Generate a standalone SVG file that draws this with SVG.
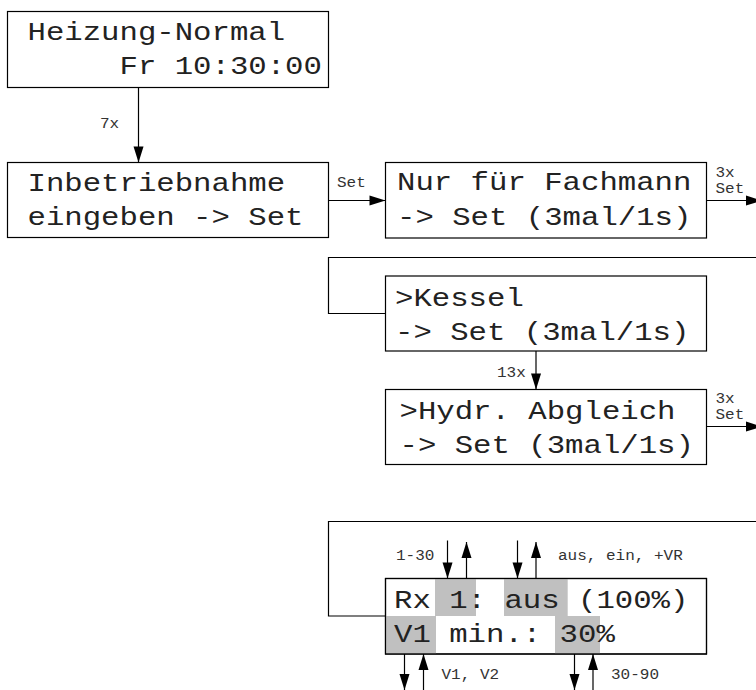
<svg xmlns="http://www.w3.org/2000/svg" width="756" height="690" viewBox="0 0 756 690">
<style>
.box{fill:#fff;stroke:#000;stroke-width:1.2}
.frame{fill:none;stroke:#000;stroke-width:1.2}
.lcd{font-family:"Liberation Mono","DejaVu Sans Mono",monospace;font-size:25px;fill:#222}
.lbl{font-family:"Liberation Mono","DejaVu Sans Mono",monospace;font-size:14px;fill:#333}
.hl{fill:#c0c0c0}
.con{fill:none;stroke:#000;stroke-width:1.2}
.arr{marker-end:url(#ah)}
</style>
<defs>
<marker id="ah" markerUnits="userSpaceOnUse" markerWidth="16" markerHeight="10" refX="16" refY="5" orient="auto" overflow="visible">
<path d="M0,0 L16,5 L0,10 z" fill="#000"/>
</marker>
</defs>

<g id="connectors">
<line class="con arr" x1="138.5" y1="87.5" x2="138.5" y2="162.5"/>
<line class="con arr" x1="328.5" y1="200.5" x2="385.5" y2="200.5"/>
<line class="con arr" x1="706.5" y1="200.5" x2="762" y2="200.5"/>
<polyline class="frame" points="760,257.5 328.5,257.5 328.5,313.5 385.5,313.5"/>
<line class="con arr" x1="536" y1="351" x2="536" y2="389.5"/>
<line class="con arr" x1="706.5" y1="426.5" x2="762" y2="426.5"/>
<polyline class="frame" points="760,521.5 328.5,521.5 328.5,616 385.5,616"/>
<line class="con arr" x1="447.5" y1="540.5" x2="447.5" y2="578.5"/>
<line class="con arr" x1="466.5" y1="578.5" x2="466.5" y2="542"/>
<line class="con arr" x1="517.5" y1="540.5" x2="517.5" y2="578.5"/>
<line class="con arr" x1="536" y1="578.5" x2="536" y2="542"/>
<line class="con arr" x1="404.5" y1="654" x2="404.5" y2="690"/>
<line class="con arr" x1="423.5" y1="690" x2="423.5" y2="654"/>
<line class="con arr" x1="574.5" y1="654" x2="574.5" y2="690"/>
<line class="con arr" x1="593" y1="690" x2="593" y2="654"/>
<text class="lbl" x="100" y="128" textLength="19.2" lengthAdjust="spacingAndGlyphs">7x</text>
<text class="lbl" x="337" y="187" textLength="28.8" lengthAdjust="spacingAndGlyphs">Set</text>
<text class="lbl" x="715.5" y="177" textLength="19.2" lengthAdjust="spacingAndGlyphs">3x</text>
<text class="lbl" x="715.5" y="193" textLength="28.8" lengthAdjust="spacingAndGlyphs">Set</text>
<text class="lbl" x="497" y="377" textLength="28.8" lengthAdjust="spacingAndGlyphs">13x</text>
<text class="lbl" x="715.5" y="402.5" textLength="19.2" lengthAdjust="spacingAndGlyphs">3x</text>
<text class="lbl" x="715.5" y="418.5" textLength="28.8" lengthAdjust="spacingAndGlyphs">Set</text>
<text class="lbl" x="396" y="559.5" textLength="38.4" lengthAdjust="spacingAndGlyphs">1-30</text>
<text class="lbl" x="558" y="560" textLength="124.8" lengthAdjust="spacingAndGlyphs">aus, ein, +VR</text>
<text class="lbl" x="441.5" y="678.5" textLength="57.6" lengthAdjust="spacingAndGlyphs">V1, V2</text>
<text class="lbl" x="611" y="678.5" textLength="48" lengthAdjust="spacingAndGlyphs">30-90</text>
</g>

<g id="heizung-normal">
<rect class="box" x="7.5" y="11.5" width="321" height="76"/>
<text class="lcd" x="27.5" y="39.5" textLength="257.6" lengthAdjust="spacingAndGlyphs">Heizung-Normal</text>
<text class="lcd" x="119.5" y="74" textLength="202.4" lengthAdjust="spacingAndGlyphs">Fr 10:30:00</text>
</g>

<g id="inbetriebnahme">
<rect class="box" x="7.5" y="162.5" width="321" height="75"/>
<text class="lcd" x="27.5" y="190.5" textLength="257.6" lengthAdjust="spacingAndGlyphs">Inbetriebnahme</text>
<text class="lcd" x="27.5" y="225" textLength="276" lengthAdjust="spacingAndGlyphs">eingeben -&gt; Set</text>
</g>

<g id="fachmann">
<rect class="box" x="385.5" y="162.5" width="321" height="75.5"/>
<text class="lcd" x="397" y="190" textLength="294.4" lengthAdjust="spacingAndGlyphs">Nur für Fachmann</text>
<text class="lcd" x="397" y="225" textLength="294.4" lengthAdjust="spacingAndGlyphs">-&gt; Set (3mal/1s)</text>
</g>

<g id="kessel">
<rect class="box" x="385.5" y="276" width="321" height="75"/>
<text class="lcd" x="395" y="305.5" textLength="128.8" lengthAdjust="spacingAndGlyphs">&gt;Kessel</text>
<text class="lcd" x="395" y="340" textLength="294.4" lengthAdjust="spacingAndGlyphs">-&gt; Set (3mal/1s)</text>
</g>

<g id="hydr-abgleich">
<rect class="box" x="385.5" y="389.5" width="321" height="75"/>
<text class="lcd" x="399.5" y="418.5" textLength="276" lengthAdjust="spacingAndGlyphs">&gt;Hydr. Abgleich</text>
<text class="lcd" x="399.5" y="453" textLength="294.4" lengthAdjust="spacingAndGlyphs">-&gt; Set (3mal/1s)</text>
</g>

<g id="ventil-display">
<rect class="box" x="385.5" y="578.5" width="321" height="75.5"/>
<rect class="hl" x="435" y="579" width="41" height="37"/>
<rect class="hl" x="504" y="579" width="63.7" height="37"/>
<rect class="hl" x="386" y="616" width="50" height="37.5"/>
<rect class="hl" x="555" y="616" width="45" height="37.5"/>
<text class="lcd" x="394" y="607.5" textLength="294.4" lengthAdjust="spacingAndGlyphs">Rx 1: aus (100%)</text>
<text class="lcd" x="394" y="641.5" textLength="220.8" lengthAdjust="spacingAndGlyphs">V1 min.: 30%</text>
<rect x="385.5" y="578.5" width="321" height="75.5" fill="none" stroke="#000" stroke-width="1.2"/>
</g>
</svg>
